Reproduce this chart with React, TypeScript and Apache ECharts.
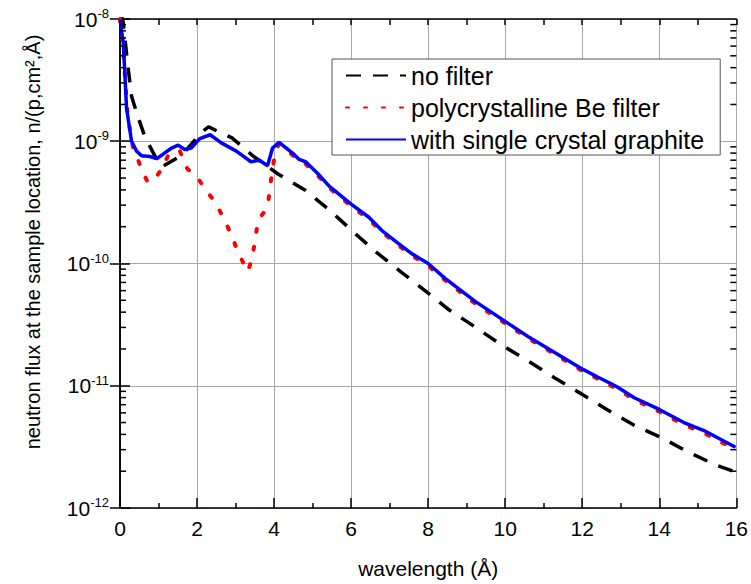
import React, { useEffect, useRef } from 'react';
import * as echarts from 'echarts';

const FONT = '"Liberation Sans", Arial, sans-serif';

// no filter (black dashed)
const xNoFilter = [0.04, 0.08, 0.21, 0.30, 0.47, 0.65, 1.0, 1.1, 1.61, 2.12, 2.3, 2.67, 2.9, 3.45, 4.1, 4.8, 5.45, 6.05, 6.65, 7.3, 7.95, 8.55, 9.2, 9.9, 10.6, 11.3, 12.0, 12.65, 13.35, 14.05, 14.75, 15.45, 16.0];
const yNoFilter = [1.1e-8, 9.5e-9, 4.0e-9, 2.33e-9, 1.57e-9, 1.08e-9, 6.67e-10, 6.2e-10, 7.7e-10, 1.19e-9, 1.31e-9, 1.15e-9, 1.07e-9, 7.6e-10, 5.4e-10, 4.0e-10, 2.72e-10, 1.82e-10, 1.24e-10, 8.5e-11, 5.9e-11, 4.16e-11, 3.05e-11, 2.16e-11, 1.59e-11, 1.15e-11, 8.5e-12, 6.36e-12, 4.76e-12, 3.77e-12, 2.87e-12, 2.26e-12, 1.96e-12];

// polycrystalline Be filter (red dotted)
const xBe = [0.0, 0.085, 0.13, 0.2, 0.34, 0.47, 0.60, 0.71, 0.86, 1.08, 1.27, 1.55, 1.74, 2.04, 2.22, 2.47, 2.69, 2.90, 3.06, 3.27, 3.32, 3.44, 3.51, 3.59, 3.83, 3.89, 3.95, 4.03, 4.13, 4.48, 4.65, 4.82, 5.12, 5.43, 6.0, 6.46, 6.80, 7.24, 7.58, 8.0, 8.44, 9.22, 10.0, 10.59, 11.24, 12.02, 12.40, 12.88, 13.35, 14.0, 14.64, 15.16, 15.98];
const yBe = [1.0e-8, 6.0e-9, 3.3e-9, 1.6e-9, 8.8e-10, 7.0e-10, 5.5e-10, 4.7e-10, 4.7e-10, 5.9e-10, 7.9e-10, 8.4e-10, 6.0e-10, 4.9e-10, 4.0e-10, 3.2e-10, 2.34e-10, 1.7e-10, 1.24e-10, 9.2e-11, 8.6e-11, 1.13e-10, 1.6e-10, 2.27e-10, 2.88e-10, 4.05e-10, 5.7e-10, 8.1e-10, 9.5e-10, 7.7e-10, 6.9e-10, 6.5e-10, 5.3e-10, 4.15e-10, 2.95e-10, 2.3e-10, 1.8e-10, 1.4e-10, 1.16e-10, 9.6e-11, 7.3e-11, 4.7e-11, 3.24e-11, 2.45e-11, 1.85e-11, 1.31e-11, 1.14e-11, 9.5e-12, 7.7e-12, 6.15e-12, 4.8e-12, 4.1e-12, 3.0e-12];

// with single crystal graphite (blue solid)
const xGraphite = [0.0, 0.085, 0.13, 0.17, 0.30, 0.43, 0.56, 0.78, 0.95, 1.11, 1.34, 1.51, 1.68, 1.85, 2.07, 2.34, 2.63, 3.02, 3.40, 3.62, 3.83, 3.96, 4.13, 4.48, 4.65, 4.82, 5.12, 5.43, 6.0, 6.46, 6.80, 7.24, 7.58, 8.0, 8.44, 9.22, 10.0, 10.59, 11.24, 12.02, 12.40, 12.88, 13.35, 14.0, 14.64, 15.16, 15.98];
const yGraphite = [1.0e-8, 6.4e-9, 3.4e-9, 1.86e-9, 1.0e-9, 8.3e-10, 7.6e-10, 7.5e-10, 7.2e-10, 7.8e-10, 8.8e-10, 9.3e-10, 8.55e-10, 8.8e-10, 1.05e-9, 1.13e-9, 9.7e-10, 8.3e-10, 6.8e-10, 7.0e-10, 6.3e-10, 8.8e-10, 9.8e-10, 8.0e-10, 7.1e-10, 6.8e-10, 5.5e-10, 4.3e-10, 3.06e-10, 2.39e-10, 1.86e-10, 1.45e-10, 1.2e-10, 1.0e-10, 7.55e-11, 4.9e-11, 3.36e-11, 2.53e-11, 1.91e-11, 1.36e-11, 1.18e-11, 9.9e-12, 7.98e-12, 6.4e-12, 5.0e-12, 4.3e-12, 3.14e-12];

const seriesNames = ['no filter', 'polycrystalline Be filter', 'with single crystal graphite'];
const decades = [1e-12, 1e-11, 1e-10, 1e-9];
const mantissas = [2, 3, 4, 5, 6, 7, 8, 9];
const minorTickValues: number[] = [];
decades.forEach((d) => mantissas.forEach((m) => minorTickValues.push(m * d)));

const X_MIN = 0;
const X_MAX = 16;

const zip = (xs: number[], ys: number[]) => xs.map((x, i) => [x, ys[i]]);

const axisLineStyle = { color: '#000', width: 1.5 };

const minorTickSeries = (xPos: number, offset: number) => ({
  type: 'scatter',
  silent: true,
  clip: false,
  xAxisIndex: 0,
  yAxisIndex: 0,
  symbol: 'rect',
  symbolSize: [6, 1.5],
  symbolOffset: [offset, 0],
  itemStyle: { color: '#000', opacity: 1 },
  emphasis: { disabled: true },
  data: minorTickValues.map((v) => [xPos, v]),
  z: 5,
});

export default function App() {
  const ref = useRef<HTMLDivElement>(null);
  useEffect(() => {
    const chart = echarts.init(ref.current!, null, { renderer: 'svg' });
    const logAxisBase = {
      type: 'log',
      logBase: 10,
      min: 1e-12,
      max: 1e-8,
    };
    chart.setOption({
      animation: false,
      backgroundColor: '#fff',
      textStyle: { fontFamily: FONT },
      grid: { left: 120, right: 11, top: 19, bottom: 72, containLabel: false },
      legend: {
        orient: 'vertical',
        left: 332,
        top: 59,
        itemWidth: 60,
        itemHeight: 20,
        itemGap: 7,
        padding: [4, 16, 3, 13],
        borderColor: '#555',
        borderWidth: 1,
        backgroundColor: '#fff',
        itemStyle: { opacity: 0 },
        textStyle: { fontSize: 25, color: '#000', fontFamily: FONT, lineHeight: 25 },
        data: seriesNames,
      },
      xAxis: [
        {
          type: 'value',
          position: 'bottom',
          min: X_MIN,
          max: X_MAX,
          interval: 2,
          axisLine: { show: true, lineStyle: axisLineStyle },
          axisTick: { show: true, inside: true, length: 10, lineStyle: axisLineStyle },
          minorTick: { show: true, splitNumber: 2, length: 5, lineStyle: axisLineStyle },
          splitLine: { show: true, lineStyle: { color: '#a8a8a8', width: 1 } },
          axisLabel: { fontSize: 21, color: '#000', margin: 10, fontFamily: FONT },
          name: 'wavelength (Å)',
          nameLocation: 'middle',
          nameGap: 50,
          nameTextStyle: { fontSize: 21, color: '#000', fontFamily: FONT },
        },
        {
          type: 'value',
          position: 'top',
          min: X_MIN,
          max: X_MAX,
          interval: 1,
          axisLine: { show: true, lineStyle: axisLineStyle },
          axisTick: { show: true, inside: true, length: 6, lineStyle: axisLineStyle },
          axisLabel: { show: false },
          splitLine: { show: false },
        },
      ],
      yAxis: [
        {
          ...logAxisBase,
          position: 'left',
          axisLine: { show: true, lineStyle: axisLineStyle },
          axisTick: { show: true, inside: true, length: 10, lineStyle: axisLineStyle },
          splitLine: { show: true, lineStyle: { color: '#a8a8a8', width: 1 } },
          axisLabel: {
            margin: 11,
            color: '#000',
            fontSize: 21,
            fontFamily: FONT,
            formatter: (v: number) => `{b|10}{s|${Math.round(Math.log10(v))}}`,
            rich: {
              b: { fontSize: 21, fontFamily: FONT, color: '#000', lineHeight: 24 },
              s: { fontSize: 13, fontFamily: FONT, color: '#000', verticalAlign: 'top', lineHeight: 24, padding: [0, 0, 10, 0] },
            },
          },
        },
        {
          ...logAxisBase,
          position: 'right',
          axisLine: { show: true, lineStyle: axisLineStyle },
          axisTick: { show: true, inside: true, length: 10, lineStyle: axisLineStyle },
          axisLabel: { show: false },
          splitLine: { show: false },
        },
      ],
      graphic: [
        {
          type: 'text',
          x: 33,
          y: 242,
          rotation: Math.PI / 2,
          style: {
            text: 'neutron flux at the sample location, n/(p,cm²,Å)',
            fontSize: 20,
            fontFamily: FONT,
            fill: '#000',
            align: 'center',
            verticalAlign: 'middle',
          },
        },
      ],
      series: [
        minorTickSeries(X_MIN, 3),
        minorTickSeries(X_MAX, -3),
        {
          type: 'line',
          name: seriesNames[0],
          data: zip(xNoFilter, yNoFilter),
          xAxisIndex: 0,
          yAxisIndex: 0,
          symbol: 'none',
          showSymbol: false,
          clip: true,
          itemStyle: { color: '#000' },
          lineStyle: { color: '#000', width: 3.5, type: [15, 12] },
        },
        {
          type: 'line',
          name: seriesNames[1],
          data: zip(xBe, yBe),
          xAxisIndex: 0,
          yAxisIndex: 0,
          symbol: 'none',
          showSymbol: false,
          clip: true,
          itemStyle: { color: '#ff0000' },
          lineStyle: { color: '#ff0000', width: 4, type: [3, 15], cap: 'round' },
        },
        {
          type: 'line',
          name: seriesNames[2],
          data: zip(xGraphite, yGraphite),
          xAxisIndex: 0,
          yAxisIndex: 0,
          symbol: 'none',
          showSymbol: false,
          clip: true,
          itemStyle: { color: '#0000ff' },
          lineStyle: { color: '#0000ff', width: 3.5 },
        },
      ],
    });
    return () => chart.dispose();
  }, []);
  return <div ref={ref} style={{ position: 'fixed', left: 0, top: 0, width: 751, height: 584 }} />;
}
